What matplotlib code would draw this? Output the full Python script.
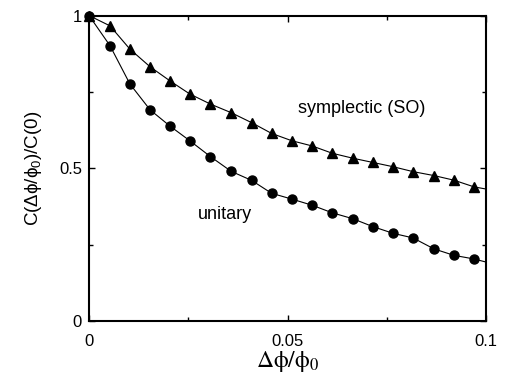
import matplotlib
matplotlib.use("Agg")
import matplotlib.pyplot as plt
from matplotlib.ticker import FixedLocator, FixedFormatter

# Data
x_pts = [0.0, 0.0053, 0.0103, 0.0154, 0.0204, 0.0254, 0.0306, 0.0358, 0.0410, 0.0460,
         0.0511, 0.0562, 0.0613, 0.0664, 0.0715, 0.0766, 0.0816, 0.0869, 0.0919, 0.0970]
symplectic = [1.0, 0.966, 0.890, 0.832, 0.786, 0.743, 0.710, 0.682, 0.649, 0.614,
              0.590, 0.573, 0.549, 0.533, 0.519, 0.505, 0.489, 0.476, 0.461, 0.439]
unitary = [1.0, 0.901, 0.776, 0.691, 0.638, 0.590, 0.538, 0.490, 0.460, 0.418,
           0.399, 0.379, 0.354, 0.335, 0.309, 0.287, 0.272, 0.236, 0.215, 0.203]
x_end = 0.1
symplectic_end = 0.432
unitary_end = 0.193

xticks = [0, 0.05, 0.1]
xticklabels = ["0", "0.05", "0.1"]
yticks = [0, 0.5, 1]
yticklabels = ["0", "0.5", "1"]

plt.rcParams['font.family'] = ['Liberation Sans', 'DejaVu Sans']

fig = plt.figure(figsize=(5.09, 3.76), dpi=100)
ax = fig.add_axes([89/509, 1-321/376, (486-89)/509, (321-15.5)/376])

ax.plot(x_pts + [x_end], symplectic + [symplectic_end], color='black', lw=0.8)
ax.plot(x_pts, symplectic, linestyle='none', marker='^', color='black', ms=6.5)
ax.plot(x_pts + [x_end], unitary + [unitary_end], color='black', lw=0.8)
ax.plot(x_pts, unitary, linestyle='none', marker='o', color='black', ms=6.5)

ax.set_xlim(0, 0.1)
ax.set_ylim(0, 1)
ax.xaxis.set_major_locator(FixedLocator(xticks))
ax.xaxis.set_major_formatter(FixedFormatter(xticklabels))
ax.yaxis.set_major_locator(FixedLocator(yticks))
ax.yaxis.set_major_formatter(FixedFormatter(yticklabels))
ax.xaxis.set_minor_locator(FixedLocator([0.025, 0.075]))
ax.yaxis.set_minor_locator(FixedLocator([0.25, 0.75]))
ax.tick_params(which='both', direction='in', top=True, right=True, width=1.0)
ax.tick_params(which='major', length=4, labelsize=12)
ax.tick_params(axis='x', which='major', pad=9)
ax.tick_params(axis='y', which='major', pad=5)
ax.tick_params(which='minor', length=3)
for s in ax.spines.values():
    s.set_linewidth(1.5)
for l in ax.lines:
    l.set_clip_on(False)

ax.text(0.0686, 0.694, "symplectic (SO)", fontsize=13, ha='center', va='center')
ax.text(0.0343, 0.350, "unitary", fontsize=13, ha='center', va='center')

ax.set_ylabel(r'C($\mathregular{\Delta\phi/\phi_0}$)/C(0)', fontsize=13.5, labelpad=11)
ax.set_xlabel(r'$\mathrm{\Delta\phi/\phi_0}$', fontsize=17, math_fontfamily='stix', labelpad=0)

fig.savefig("out.png", dpi=100)
